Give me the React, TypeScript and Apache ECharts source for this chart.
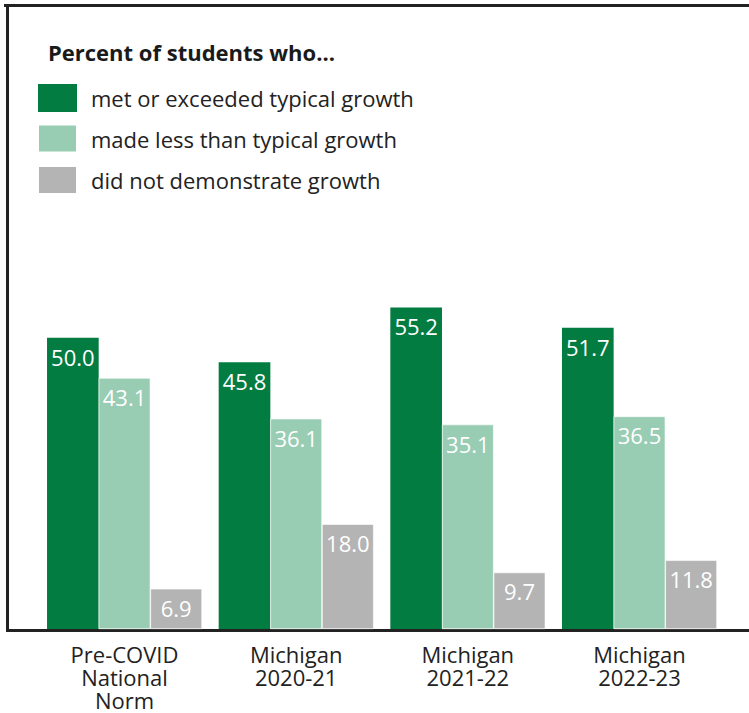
import React, { useEffect, useRef } from "react";
import * as echarts from "echarts";

const categories = ["Pre-COVID\nNational\nNorm", "Michigan\n2020-21", "Michigan\n2021-22", "Michigan\n2022-23"];
const seriesNames = ["met or exceeded typical growth", "made less than typical growth", "did not demonstrate growth"];
const metOrExceeded = [50.0, 45.8, 55.2, 51.7];
const madeLess = [43.1, 36.1, 35.1, 36.5];
const noGrowth = [6.9, 18.0, 9.7, 11.8];

const colors = ["#037c42", "#98ccb3", "#b4b4b4"];
const FONT = "'Open Sans', 'Noto Sans', sans-serif";

export default function App() {
  const ref = useRef<HTMLDivElement>(null);

  useEffect(() => {
    if (!ref.current) return;
    const chart = echarts.init(ref.current, undefined, { renderer: "svg" });
    const values = [metOrExceeded, madeLess, noGrowth];

    chart.setOption({
      animation: false,
      backgroundColor: "#ffffff",
      title: {
        text: "Percent of students who...",
        left: 48,
        top: 41,
        padding: 0,
        textStyle: { fontFamily: FONT, fontSize: 22, fontWeight: "bold", color: "#1a1a1a" },
      },
      legend: {
        orient: "vertical",
        left: 37,
        top: 84,
        padding: 0,
        itemWidth: 39,
        itemHeight: 28,
        itemGap: 11.5,
        icon: "rect",
        data: seriesNames,
        textStyle: { fontFamily: FONT, fontSize: 22, color: "#222222", padding: [0, 0, 0, 9] },
      },
      grid: { left: 38.7, right: 23.7, top: 279.5, bottom: 84 },
      xAxis: {
        type: "category",
        data: categories,
        axisLine: { show: false },
        axisTick: { show: false },
        axisLabel: { fontFamily: FONT, fontSize: 22, color: "#222222", lineHeight: 23, margin: 13 },
      },
      yAxis: { type: "value", min: 0, max: 60, show: false, splitLine: { show: false } },
      series: seriesNames.map((name, i) => ({
        name,
        type: "bar",
        data: values[i],
        barGap: "0%",
        barCategoryGap: "9.7%",
        itemStyle: { color: colors[i], borderColor: "#ffffff", borderWidth: i === 0 ? 0 : 0.6 },
        label: {
          show: true,
          position: "insideTop",
          distance: 8,
          formatter: (p: any) => p.value.toFixed(1),
          fontFamily: FONT,
          fontSize: 22,
          color: "#ffffff",
        },
      })),
      graphic: [
        { type: "line", shape: { x1: 4, y1: 5.5, x2: 749, y2: 5.5 }, style: { stroke: "#222222", lineWidth: 3 } },
        { type: "line", shape: { x1: 7.5, y1: 4, x2: 7.5, y2: 632 }, style: { stroke: "#222222", lineWidth: 3 } },
        { type: "line", shape: { x1: 6, y1: 630.5, x2: 749, y2: 630.5 }, style: { stroke: "#222222", lineWidth: 3 } },
      ],
    });

    return () => chart.dispose();
  }, []);

  return <div ref={ref} style={{ position: "absolute", left: 0, top: 0, width: 749, height: 713 }} />;
}
